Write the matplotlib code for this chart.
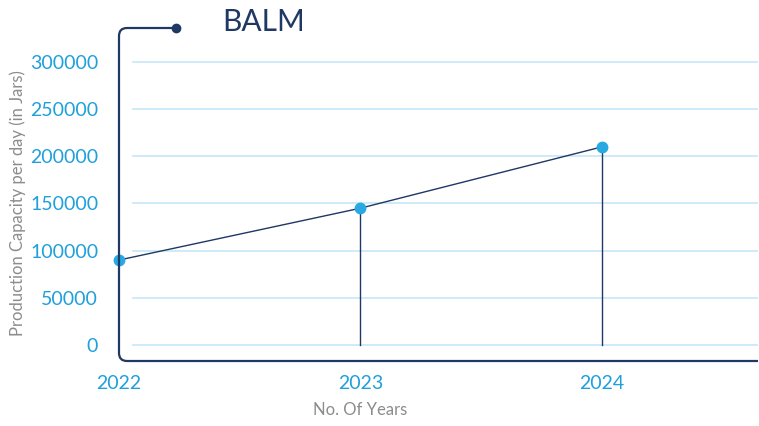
#!/usr/bin/env python3
import matplotlib.pyplot as plt
from matplotlib.path import Path
from matplotlib.patches import PathPatch

plt.rcParams['font.family'] = ['Lato', 'DejaVu Sans']

# data
years = [2022, 2023, 2024]
capacity = [90000, 145000, 210000]
yticks = [0, 50000, 100000, 150000, 200000, 250000, 300000]

navy = '#1f3864'
blue = '#1ea0dc'
grid_blue = '#c6e8f8'
gray = '#8c8c8c'

W, H = 759, 426
fig = plt.figure(figsize=(W / 100, H / 100), dpi=100)
# axes box in pixels: left 119, right 758, top 28, bottom 361
ax = fig.add_axes([119 / W, (H - 361) / H, (758 - 119) / W, (361 - 28) / H])
ax.set_xlim(2022, 2022 + (758 - 119) / 241.5)
ax.set_ylim(-17000, 336000)

for s in ax.spines.values():
    s.set_visible(False)

# gridlines, starting a bit right of the frame
for v in yticks:
    ax.plot([2022.06, ax.get_xlim()[1]], [v, v], color=grid_blue, lw=1.2, zorder=1)

# drop lines from points to zero
for x, y in zip(years[1:], capacity[1:]):
    ax.plot([x, x], [0, y], color=navy, lw=1, zorder=2)

ax.plot(years, capacity, color=navy, lw=1, zorder=3)
ax.plot(years, capacity, 'o', color='#29a9e1', ms=7.5, zorder=4, clip_on=False)

# frame: hook on top, left line, rounded corner, bottom line
rx, ry = 8 / 639, 8 / 333
hx = (176 - 119) / 639
verts = [(hx, 1), (rx, 1), (0, 1), (0, 1 - ry), (0, ry), (0, 0), (rx, 0), (1, 0)]
codes = [Path.MOVETO, Path.LINETO, Path.CURVE3, Path.CURVE3,
         Path.LINETO, Path.CURVE3, Path.CURVE3, Path.LINETO]
ax.add_patch(PathPatch(Path(verts, codes), fill=False, edgecolor=navy, lw=1.6,
                       transform=ax.transAxes, clip_on=False, zorder=5))
ax.plot([hx], [1], 'o', color=navy, ms=6, transform=ax.transAxes, clip_on=False, zorder=6)

ax.set_yticks(yticks)
ax.set_yticklabels([str(v) for v in yticks])
ax.set_xticks(years)
ax.set_xticklabels([str(y) for y in years])
ax.tick_params(axis='y', length=0, pad=15, labelsize=14, labelcolor=blue)
ax.tick_params(axis='x', length=0, pad=10, labelsize=14, labelcolor=blue)

fig.text(222 / W, 1 - 22 / H, 'BALM', color=navy, fontsize=21.5, va='center', ha='left')
fig.text(18 / W, 1 - 203 / H, 'Production Capacity per day (in Jars)', color=gray,
         fontsize=12, rotation=90, va='center', ha='center')
fig.text(360 / W, 1 - 410 / H, 'No. Of Years', color=gray, fontsize=12,
         va='center', ha='center')

plt.savefig('out.png', dpi=100)
